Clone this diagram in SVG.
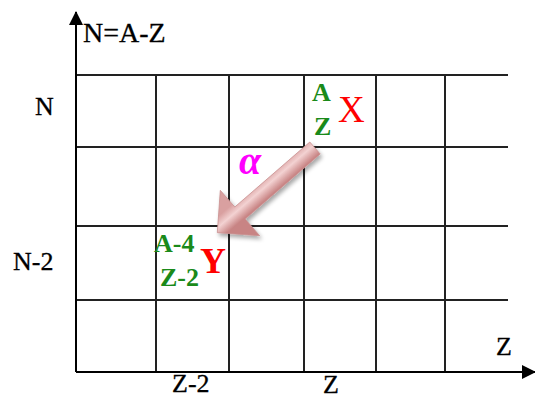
<svg xmlns="http://www.w3.org/2000/svg" width="535" height="399" viewBox="0 0 535 399">
<style>
.grid{stroke:#222;stroke-width:2;fill:none}
.axis{stroke:#000;stroke-width:2;fill:none}
text{font-family:'Liberation Serif','Times New Roman','DejaVu Serif',serif}
.lbl{font-size:26px;fill:#000;stroke:#000;stroke-width:0.3}
.big{font-size:28px}
.g{font-size:26px;fill:#1a8a1a;font-weight:bold}
.r{fill:#ff0000}
</style>
<defs>
<marker id="ah" viewBox="0 0 14 14" refX="13" refY="7" markerWidth="14" markerHeight="14" markerUnits="userSpaceOnUse" orient="auto">
<path d="M0,0 L14,7 L0,14 Z" fill="#000"/>
</marker>
<linearGradient id="pk" gradientUnits="userSpaceOnUse" x1="271" y1="171" x2="283" y2="185">
<stop offset="0" stop-color="#d9a0a0"/>
<stop offset="0.45" stop-color="#f3d2d2"/>
<stop offset="1" stop-color="#c88484"/>
</linearGradient>
<filter id="sh" x="-20%" y="-20%" width="140%" height="140%">
<feGaussianBlur in="SourceAlpha" stdDeviation="2"/>
<feOffset dx="2" dy="3" result="b"/>
<feComponentTransfer><feFuncA type="linear" slope="0.35"/></feComponentTransfer>
<feMerge><feMergeNode/><feMergeNode in="SourceGraphic"/></feMerge>
</filter>
</defs>
<g id="grid">
<line class="grid" x1="76" y1="75" x2="508" y2="75"/>
<line class="grid" x1="76" y1="147" x2="508" y2="147"/>
<line class="grid" x1="76" y1="226" x2="508" y2="226"/>
<line class="grid" x1="76" y1="300" x2="508" y2="300"/>
<line class="grid" x1="156" y1="75" x2="156" y2="372"/>
<line class="grid" x1="229" y1="75" x2="229" y2="372"/>
<line class="grid" x1="304" y1="75" x2="304" y2="372"/>
<line class="grid" x1="376" y1="75" x2="376" y2="372"/>
<line class="grid" x1="445" y1="75" x2="445" y2="372"/>
</g>
<g id="connectors">
<line class="axis" x1="76" y1="372" x2="76" y2="12" marker-end="url(#ah)"/>
<line class="axis" x1="76" y1="372" x2="535" y2="372" marker-end="url(#ah)"/>
<polygon id="alpha-arrow" points="309.8,142 234.8,207 220.3,190.3 217.3,232.7 259.7,235.7 245.2,219 320.2,154" fill="url(#pk)" stroke="#c99090" stroke-width="0.8" filter="url(#sh)"/>
</g>
<g id="axis-labels">
<text class="lbl big" x="83" y="42">N=A-Z</text>
<text class="lbl" x="35" y="115">N</text>
<text class="lbl" x="13" y="270">N-2</text>
<text class="lbl" x="496" y="355">Z</text>
<text class="lbl" x="172" y="392">Z-2</text>
<text class="lbl" x="323" y="393">Z</text>
</g>
<g id="node-X">
<text class="g" x="312" y="101">A</text>
<text class="g" x="314" y="135">Z</text>
<text class="r" x="338" y="122" font-size="37">X</text>
</g>
<g id="node-Y">
<text class="g" x="154" y="252">A-4</text>
<text class="g" x="160" y="286">Z-2</text>
<text class="r" x="200" y="273" font-size="36" font-weight="bold">Y</text>
</g>
<g id="alpha">
<text x="239" y="174" font-size="40" font-weight="bold" font-style="italic" fill="#ff00ff">α</text>
</g>
</svg>
